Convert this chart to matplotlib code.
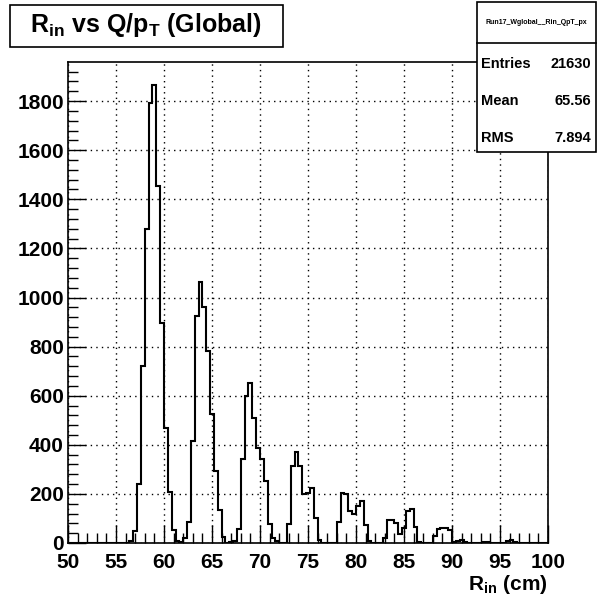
import numpy as np
import matplotlib
matplotlib.use("Agg")
import matplotlib.pyplot as plt
from matplotlib.patches import Rectangle
from matplotlib.ticker import MultipleLocator

plt.rcParams['font.family'] = ['Liberation Sans', 'DejaVu Sans']
plt.rcParams['font.weight'] = 'bold'
plt.rcParams['mathtext.fontset'] = 'custom'
plt.rcParams['mathtext.rm'] = 'Liberation Sans:bold'
plt.rcParams['mathtext.it'] = 'Liberation Sans:bold'
plt.rcParams['mathtext.bf'] = 'Liberation Sans:bold'

# histogram: 125 bins of 0.4 cm between 50 and 100
x_min, x_max, n_bins = 50, 100, 125
counts = [
    0, 0, 0, 0, 0, 0, 0, 0, 0, 0,
    0, 0, 0, 0, 0, 0, 8, 49, 242, 721,
    1281, 1794, 1866, 1455, 897, 470, 209, 53, 8, 3,
    19, 87, 415, 926, 1065, 960, 783, 524, 295, 135,
    26, 2, 5, 7, 57, 344, 597, 652, 510, 385,
    341, 252, 79, 20, 7, 0, 2, 78, 312, 371,
    312, 199, 205, 224, 103, 14, 0, 0, 0, 0,
    86, 202, 200, 131, 117, 150, 172, 72, 8, 0,
    0, 0, 22, 95, 93, 82, 38, 60, 131, 140,
    65, 4, 0, 0, 0, 30, 57, 62, 60, 52,
    4, 10, 12, 3, 0, 0, 2, 0, 5, 4,
    0, 0, 2, 0, 10, 14, 3, 0, 0, 0,
    0, 0, 0, 0, 0,
]
hist_name = "Run17_Wglobal__Rin_QpT_px"
stat_labels = ["Entries", "Mean", "RMS"]
stat_values = ["21630", "65.56", "7.894"]

edges = np.linspace(x_min, x_max, n_bins + 1)

fig = plt.figure(figsize=(5.97, 5.99), dpi=100)
ax = fig.add_axes([68/597, 1-543/599, 480/597, 481/599])

ax.stairs(counts, edges, color="black", linewidth=1.5)
ax.set_xlim(x_min, x_max)
ax.set_ylim(0, 1.05 * max(counts))

ax.xaxis.set_major_locator(MultipleLocator(5))
ax.xaxis.set_minor_locator(MultipleLocator(1))
ax.yaxis.set_major_locator(MultipleLocator(200))
ax.yaxis.set_minor_locator(MultipleLocator(40))
ax.tick_params(which="both", direction="in", width=1, colors="black",
               top=False, right=False)
ax.tick_params(which="major", length=13, labelsize=15)
ax.tick_params(axis="x", which="major", pad=7)
ax.tick_params(axis="y", which="major", pad=3)
ax.tick_params(which="minor", length=7)
ax.grid(True, which="major", linestyle=(0, (1, 3)), color="black", linewidth=1)
for s in ax.spines.values():
    s.set_linewidth(1.2)
for lab in ax.get_xticklabels() + ax.get_yticklabels():
    lab.set_fontweight("bold")

fig.text(548/597, 1-585/599, r"R$_{\rm in}$ (cm)", ha="right", va="center",
         fontsize=15, fontweight="bold")

# title box
fig.patches.append(Rectangle((10/597, 1-47/599), 273/597, 42/599, transform=fig.transFigure,
                             facecolor="white", edgecolor="black", linewidth=1.2))
fig.text(146/597, 1-25/599, r"R$_{\rm in}$ vs Q/p$_{\rm T}$ (Global)", ha="center", va="center",
         fontsize=18, fontweight="bold")

# stats box
fig.patches.append(Rectangle((477/597, 1-152/599), 119/597, 150/599, transform=fig.transFigure,
                             facecolor="white", edgecolor="black", linewidth=1.2, zorder=5))
fig.lines.append(plt.Line2D([477/597, 596/597], [1-43/599, 1-43/599], transform=fig.transFigure,
                            color="black", linewidth=1.2, zorder=6))
fig.text(536/597, 1-22/599, hist_name, ha="center", va="center", fontsize=5,
         fontweight="bold", zorder=7)
for i, (lab, val) in enumerate(zip(stat_labels, stat_values)):
    yy = 1 - (64 + 37 * i) / 599
    fig.text(481/597, yy, lab, ha="left", va="center", fontsize=10.5, fontweight="bold", zorder=7)
    fig.text(591/597, yy, val, ha="right", va="center", fontsize=10.5, fontweight="bold", zorder=7)

fig.savefig("out.png", dpi=100)
